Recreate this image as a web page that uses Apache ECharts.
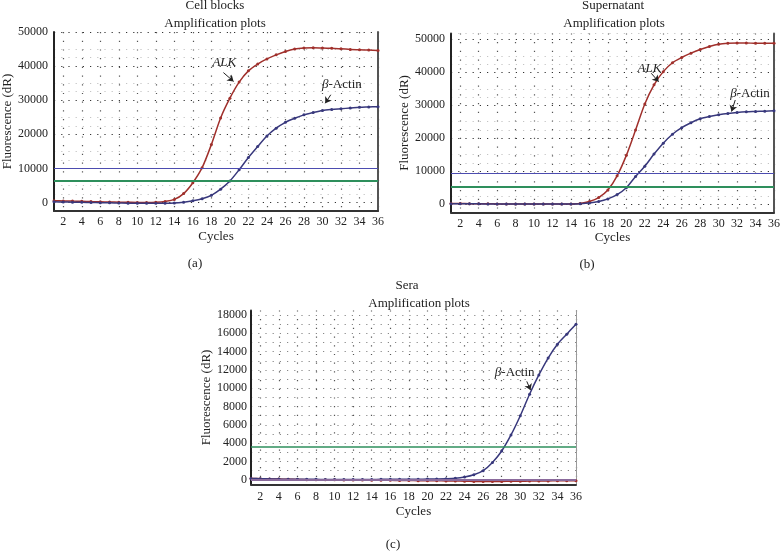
<!DOCTYPE html>
<html>
<head>
<meta charset="utf-8">
<script src="https://cdn.jsdelivr.net/npm/echarts@6/dist/echarts.min.js"></script>
<style>
  html, body { margin: 0; padding: 0; background: #fff; }
  #chart { width: 783px; height: 557px; }
</style>
</head>
<body>
<div id="chart"></div>
<script>
// x axis: PCR cycles
var cycles = [1, 2, 3, 4, 5, 6, 7, 8, 9, 10, 11, 12, 13, 14, 15, 16, 17, 18,
              19, 20, 21, 22, 23, 24, 25, 26, 27, 28, 29, 30, 31, 32, 33, 34, 35, 36];

// (a) cell blocks
var cellAlk = [500, 450, 400, 350, 250, 200, 150, 100, 50, 0, 0, 50, 300, 900, 2600, 5800, 10200, 17000,
               24800, 30600, 35300, 38600, 40600, 42100, 43300, 44300, 45000, 45300, 45400, 45300, 45200, 45100, 44900, 44800, 44700, 44600];
var cellActin = [200, 150, 100, 50, 0, -50, -100, -150, -200, -200, -200, -200, -200, -150, 100, 500, 1100, 2100,
                 3900, 6300, 9600, 13200, 16400, 19500, 21800, 23500, 24700, 25700, 26400, 27000, 27300, 27500, 27700, 27900, 28000, 28100];
var cellThresholds = [9900, 6300];   // blue, green

// (b) supernatant
var superAlk = [200, 180, 150, 120, 100, 80, 60, 50, 40, 30, 20, 20, 20, 50, 200, 800, 2000, 4300,
                8600, 14800, 22500, 30400, 36200, 40200, 42900, 44500, 45800, 46900, 47800, 48500, 48800, 48900, 48900, 48800, 48800, 48800];
var superActin = [150, 130, 110, 90, 70, 50, 40, 30, 20, 20, 20, 20, 30, 60, 150, 350, 800, 1600,
                  2900, 5000, 8400, 11500, 15200, 18500, 21200, 23200, 24700, 25900, 26600, 27100, 27500, 27800, 28000, 28100, 28200, 28300];
var superThresholds = [9400, 5400];

// (c) sera
var seraActin = [150, 120, 100, 80, 70, 60, 50, 50, 40, 40, 40, 40, 40, 40, 50, 50, 60, 60,
                 70, 80, 90, 110, 160, 300, 550, 1000, 1900, 3150, 4900, 7000, 9350, 11450, 13300, 14800, 15900, 17000];
var seraAlk = [150, 120, 100, 80, 60, 40, 20, 10, 0, 0, -10, -20, -30, -40, -50, -60, -70, -80,
               -90, -100, -110, -120, -130, -150, -170, -180, -180, -170, -160, -150, -140, -130, -120, -110, -100, -100];
var seraThresholds = [50, 3600];     // mauve, green

// annotation anchors in data units [cycle, fluorescence]
var notesA = { alkText: [19.4, 40900], alkArrow: [[19.3, 38100], [20.4, 35500]],
               actinText: [32.1, 34700], actinArrow: [[30.9, 31600], [30.3, 29100]] };
var notesB = { alkText: [22.5, 41200], alkArrow: [[22.7, 39700], [23.5, 37150]],
               actinText: [33.4, 33600], actinArrow: [[31.8, 31600], [31.4, 28100]] };
var notesC = { actinText: [29.4, 11700], actinArrow: [[30.7, 10750], [31.1, 9800]] };

var SERIF = '"Liberation Serif", "DejaVu Serif", serif';
var RED = '#a0302c';
var NAVY = '#38387c';
var BLUE = '#4c4cb0';
var GREEN = '#2e8f5c';
var INK = '#222';
var CLEAR = 'rgba(0,0,0,0)';

function pairs(vals) {
    return cycles.map(function (c, i) { return [c, vals[i]]; });
}

function noteLabel(coord, rich) {
    return {
        coord: coord, symbol: 'circle', symbolSize: 0,
        label: {
            show: true, position: 'inside', color: INK, fontFamily: SERIF, fontSize: 13,
            fontStyle: rich ? 'normal' : 'italic',
            formatter: rich ? '{b|β}-Actin' : 'ALK',
            rich: { b: { fontStyle: 'italic', fontFamily: SERIF, fontSize: 13, color: INK } }
        }
    };
}

function arrow(pts) {
    return [
        { coord: pts[0], symbol: 'none', lineStyle: { color: INK, width: 1, type: 'solid' } },
        { coord: pts[1], symbol: 'arrow', symbolSize: 6 }
    ];
}

function hline(v, color, w) {
    return { yAxis: v, lineStyle: { color: color, width: w, type: 'solid' } };
}

function curve(name, vals, color, gi, extra) {
    var s = {
        name: name, type: 'line', xAxisIndex: gi, yAxisIndex: gi,
        data: pairs(vals), smooth: 0.3,
        symbol: 'circle', symbolSize: 3, showSymbol: true,
        lineStyle: { color: color, width: 1.5 },
        itemStyle: { color: color },
        z: 3
    };
    if (extra) {
        s.markLine = {
            silent: true, animation: false, symbol: ['none', 'none'],
            label: { show: false }, data: extra.lines || []
        };
        s.markPoint = { silent: true, animation: false, data: extra.points || [] };
    }
    return s;
}

function xAxisFor(gi, nameGap, margin) {
    return {
        type: 'value', gridIndex: gi, min: 1, max: 36, interval: 1,
        name: 'Cycles', nameLocation: 'middle', nameGap: nameGap,
        nameTextStyle: { color: INK, fontFamily: SERIF, fontSize: 13 },
        axisLine: { onZero: false, lineStyle: { color: '#333', width: 2 } },
        axisTick: { show: false },
        axisLabel: {
            margin: margin, color: INK, fontFamily: SERIF, fontSize: 12,
            formatter: function (v) { return v % 2 === 0 ? String(v) : ''; }
        },
        // a dotted column every second cycle
        splitLine: { show: true, lineStyle: { type: [1.2, 7.5], width: 1.2, color: [CLEAR, '#555'] } }
    };
}

function yAxisFor(gi, min, max, interval, labelStep, colors, nameGap, margin) {
    return {
        type: 'value', gridIndex: gi, min: min, max: max, interval: interval,
        name: 'Fluorescence (dR)', nameLocation: 'middle', nameGap: nameGap,
        nameTextStyle: { color: INK, fontFamily: SERIF, fontSize: 13 },
        axisLine: { show: true, onZero: false, lineStyle: { color: '#222', width: 2 } },
        axisTick: { show: false },
        axisLabel: {
            margin: margin, color: INK, fontFamily: SERIF, fontSize: 12,
            formatter: function (v) { return (v >= 0 && v % labelStep === 0) ? String(v) : ''; }
        },
        splitLine: { show: true, lineStyle: { type: [1.2, 6], width: 1.2, color: colors } }
    };
}

function border(gi, color, w) {
    return {
        type: 'value', gridIndex: gi, position: 'right',
        axisLine: { show: true, lineStyle: { color: color, width: w } },
        axisTick: { show: false }, axisLabel: { show: false }, splitLine: { show: false }
    };
}

function txt(x, y, s) {
    return {
        type: 'text', x: x, y: y, silent: true,
        style: { text: s, font: '13px ' + SERIF, fill: INK, textAlign: 'center', textVerticalAlign: 'middle' }
    };
}

var chart = echarts.init(document.getElementById('chart'));

var option = {
    backgroundColor: '#fff',
    animation: false,
    grid: [
        { left: 52, top: 32, width: 326, height: 179 },
        { left: 451, top: 33.4, width: 327, height: 179 },
        { left: 251, top: 310.4, width: 325, height: 174 }
    ],
    xAxis: [xAxisFor(0, 19, 5), xAxisFor(1, 19, 5), xAxisFor(2, 21, 6)],
    yAxis: [
        yAxisFor(0, -2500, 50000, 2500, 10000, [CLEAR, '#333', '#c4c4c4', '#c4c4c4'], 40, 6),
        yAxisFor(1, -2500, 51800, 2500, 10000, [CLEAR, '#333', '#c4c4c4', '#c4c4c4'], 40, 6),
        yAxisFor(2, -500, 18500, 500, 2000, [CLEAR, '#888'], 38, 4),
        border(0, '#555', 2),
        border(1, '#555', 2),
        border(2, '#999', 1)
    ],
    series: [
        curve('ALK', cellAlk, RED, 0, {
            lines: [arrow(notesA.alkArrow)],
            points: [noteLabel(notesA.alkText, false)]
        }),
        curve('β-Actin', cellActin, NAVY, 0, {
            lines: [hline(cellThresholds[0], BLUE, 1.2), hline(cellThresholds[1], GREEN, 2), arrow(notesA.actinArrow)],
            points: [noteLabel(notesA.actinText, true)]
        }),
        curve('ALK', superAlk, RED, 1, {
            lines: [arrow(notesB.alkArrow)],
            points: [noteLabel(notesB.alkText, false)]
        }),
        curve('β-Actin', superActin, NAVY, 1, {
            lines: [hline(superThresholds[0], BLUE, 1.2), hline(superThresholds[1], GREEN, 2), arrow(notesB.actinArrow)],
            points: [noteLabel(notesB.actinText, true)]
        }),
        curve('ALK', seraAlk, RED, 2, {
            lines: [hline(seraThresholds[0], '#8a6a9c', 2), hline(seraThresholds[1], GREEN, 1.5)]
        }),
        curve('β-Actin', seraActin, NAVY, 2, {
            lines: [arrow(notesC.actinArrow)],
            points: [noteLabel(notesC.actinText, true)]
        })
    ],
    graphic: [
        txt(215, 6, 'Cell blocks'),
        txt(215, 24, 'Amplification plots'),
        txt(195, 264, '(a)'),
        txt(613, 6, 'Supernatant'),
        txt(614, 24, 'Amplification plots'),
        txt(587, 265, '(b)'),
        txt(407, 286, 'Sera'),
        txt(419, 304, 'Amplification plots'),
        txt(393, 545, '(c)')
    ]
};

chart.setOption(option);
</script>
</body>
</html>
